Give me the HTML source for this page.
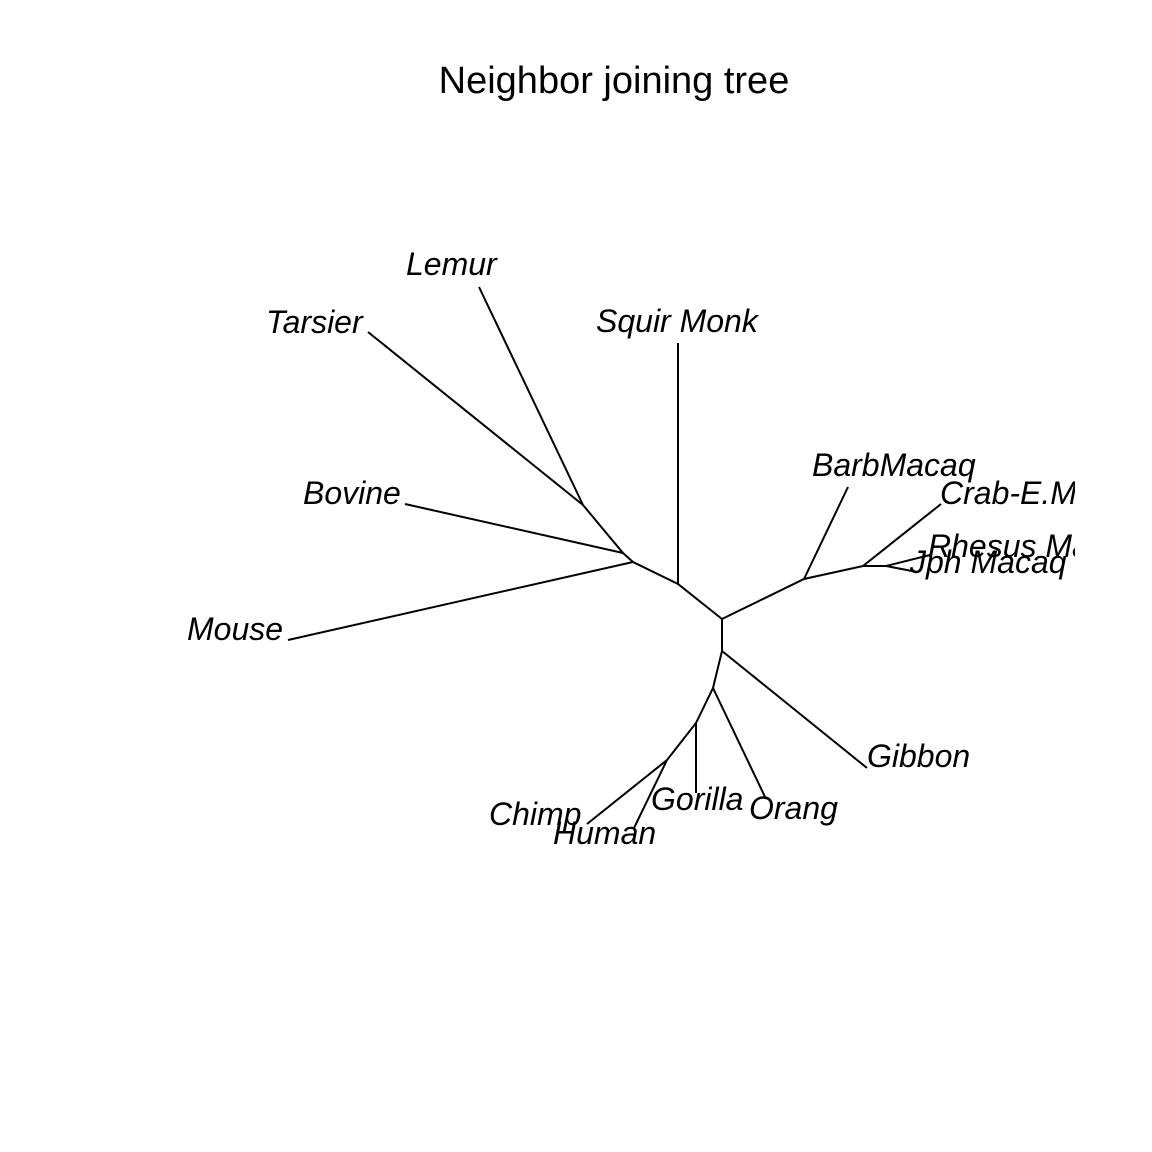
<!DOCTYPE html>
<html><head><meta charset="utf-8"><style>
html,body{margin:0;padding:0;background:#fff;}
svg{display:block;}
text{font-family:"Liberation Sans",Arial,sans-serif;fill:#000;}
.l{font-style:italic;font-size:32px;}
</style></head><body>
<svg width="1152" height="1152" viewBox="0 0 1152 1152" xmlns="http://www.w3.org/2000/svg">
<defs><clipPath id="c"><rect x="0" y="0" width="1075" height="1152"/></clipPath></defs>
<text x="614" y="93" text-anchor="middle" font-size="38">Neighbor joining tree</text>
<g stroke="#000" stroke-width="2" fill="none" stroke-linecap="butt">
<line x1="288" y1="640" x2="633" y2="562"/>
<line x1="405" y1="504" x2="623" y2="553"/>
<line x1="368" y1="332" x2="583" y2="505"/>
<line x1="479" y1="287" x2="583" y2="505"/>
<polyline points="583,505 623,553 633,562 678,584 722,619 804,579 863,566 886,566"/>
<line x1="678" y1="343" x2="678" y2="584"/>
<line x1="848" y1="487" x2="804" y2="579"/>
<line x1="941" y1="504" x2="863" y2="566"/>
<line x1="886" y1="566" x2="930" y2="555"/>
<line x1="886" y1="566" x2="912" y2="571"/>
<polyline points="722,619 722,651 713,688 696,723 667,760"/>
<line x1="722" y1="651" x2="867" y2="768"/>
<line x1="713" y1="688" x2="766" y2="799"/>
<line x1="696" y1="723" x2="696" y2="793"/>
<line x1="667" y1="760" x2="587" y2="824"/>
<line x1="667" y1="760" x2="634" y2="828"/>
</g>
<g clip-path="url(#c)">
<text class="l" x="406" y="275">Lemur</text>
<text class="l" x="266" y="333">Tarsier</text>
<text class="l" x="596" y="332">Squir Monk</text>
<text class="l" x="303" y="504">Bovine</text>
<text class="l" x="187" y="640">Mouse</text>
<text class="l" x="812" y="476">BarbMacaq</text>
<text class="l" x="940" y="504">Crab-E.Macaq</text>
<text class="l" x="928" y="557">Rhesus Mac</text>
<text class="l" x="910" y="573">Jph Macaq</text>
<text class="l" x="867" y="767">Gibbon</text>
<text class="l" x="749" y="819">Orang</text>
<text class="l" x="651" y="810">Gorilla</text>
<text class="l" x="489" y="825">Chimp</text>
<text class="l" x="553" y="844">Human</text>
</g>
</svg>
</body></html>
